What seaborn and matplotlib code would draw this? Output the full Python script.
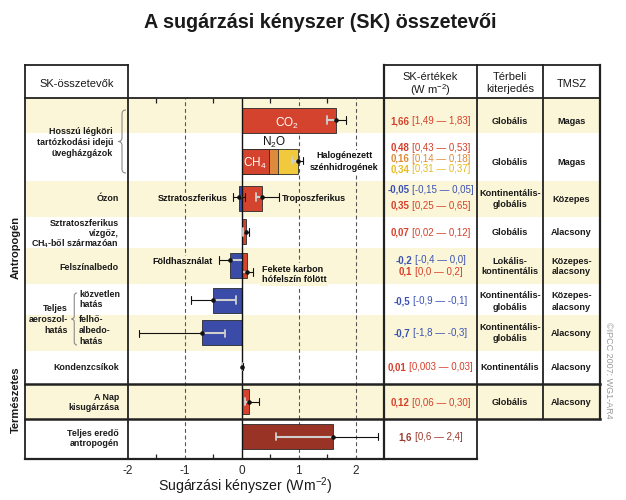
import numpy as np
import pandas as pd
import matplotlib
matplotlib.use('Agg')
import matplotlib.pyplot as plt
from matplotlib.path import Path
from matplotlib.patches import PathPatch
from matplotlib.ticker import FixedLocator
import seaborn as sns

sns.set_style('white')
plt.rcParams['font.family'] = ['Liberation Sans', 'DejaVu Sans']
plt.rcParams['mathtext.fontset'] = 'custom'
plt.rcParams['mathtext.rm'] = 'Liberation Sans'
plt.rcParams['mathtext.it'] = 'Liberation Sans:italic'
plt.rcParams['mathtext.bf'] = 'Liberation Sans:bold'

# ---- adatok (W m-2) ----
komponens = ['CO2', 'CH4', 'N2O', 'Halogénezett szénhidrogének',
             'Sztratoszferikus ózon', 'Troposzferikus ózon', 'Sztratoszferikus vízgőz',
             'Földhasználat', 'Fekete karbon hófelszín fölött', 'Közvetlen hatás',
             'Felhő-albedo-hatás', 'Kondenzcsíkok', 'A Nap kisugárzása',
             'Teljes eredő antropogén']
ertek = [1.66, 0.48, 0.16, 0.34, -0.05, 0.35, 0.07, -0.2, 0.1, -0.5, -0.7, 0.01, 0.12, 1.6]
also = [1.49, 0.43, 0.14, 0.31, -0.15, 0.25, 0.02, -0.4, 0.0, -0.9, -1.8, 0.003, 0.06, 0.6]
felso = [1.83, 0.53, 0.18, 0.37, 0.05, 0.65, 0.12, 0.0, 0.2, -0.1, -0.3, 0.03, 0.30, 2.4]
sor = [0, 1, 1, 1, 2, 2, 3, 4, 4, 5, 6, 7, 8, 9]
# CH4 + N2O + halogénezett együttes bizonytalansága
ghg_also, ghg_felso = 0.89, 1.07

sk_ertek = [['1,66'], ['0,48', '0,16', '0,34'], ['-0,05', '0,35'], ['0,07'],
            ['-0,2', '0,1'], ['-0,5'], ['-0,7'], ['0,01'], ['0,12'], ['1,6']]
sk_tartomany = [['[1,49 — 1,83]'], ['[0,43 — 0,53]', '[0,14 — 0,18]', '[0,31 — 0,37]'],
                ['[-0,15 — 0,05]', '[0,25 — 0,65]'], ['[0,02 — 0,12]'],
                ['[-0,4 — 0,0]', '[0,0 — 0,2]'], ['[-0,9 — -0,1]'], ['[-1,8 — -0,3]'],
                ['[0,003 — 0,03]'], ['[0,06 — 0,30]'], ['[0,6 — 2,4]']]
terbeli = ['Globális', 'Globális', 'Kontinentális-\nglobális', 'Globális',
           'Lokális-\nkontinentális', 'Kontinentális-\nglobális', 'Kontinentális-\nglobális',
           'Kontinentális', 'Globális']
tmsz = ['Magas', 'Magas', 'Közepes', 'Alacsony', 'Közepes-\nalacsony', 'Közepes-\nalacsony',
        'Alacsony', 'Alacsony', 'Alacsony']

# ---- színek, elrendezés (pixelben) ----
PIROS, NARANCS, SARGA, KEK, BORDO = '#D4432D', '#DE8A3D', '#F1C93D', '#3A4BA8', '#983325'
SZOVEG_PIROS, SZOVEG_NARANCS, SZOVEG_SARGA = '#D63F2A', '#E08A35', '#E6BB22'
SZOVEG_KEK, SZOVEG_BORDO = '#3A52B4', '#9A3A2E'
HATTER = '#FBF6D7'
bar_szin = [PIROS, PIROS, NARANCS, SARGA, KEK, PIROS, PIROS, KEK, PIROS, KEK, KEK, PIROS, PIROS, BORDO]
sk_szin = [[SZOVEG_PIROS], [SZOVEG_PIROS, SZOVEG_NARANCS, SZOVEG_SARGA], [SZOVEG_KEK, SZOVEG_PIROS],
           [SZOVEG_PIROS], [SZOVEG_KEK, SZOVEG_PIROS], [SZOVEG_KEK], [SZOVEG_KEK], [SZOVEG_PIROS],
           [SZOVEG_PIROS], [SZOVEG_BORDO]]

sor_hatar = [98, 133, 181, 217, 248, 284, 315, 351, 384, 419, 459]
sor_kozep = [120.5, 161.5, 198, 231.8, 265.5, 300.5, 332, 366.5, 401.5, 436.5]
sk_sorkoz = [0, 10.8, 16, 0, 11.4, 0, 0, 0, 0, 0]
sk_eltolas = [0, -4, -1, 0, -0.5, 0, 0, 0, 0, 0]
hiba_eltolas = [-0.5, -1, 0, 0, -1.3, -1.3, 0, -5.5, 6.2, -0.5, 1.3, 0, 0, 0]
BAR_H = 25

W, H = 626, 500
fig = plt.figure(figsize=(W / 100, H / 100), dpi=100)


def px(x0, y0, x1, y1):
    return [x0 / W, 1 - y1 / H, (x1 - x0) / W, (y1 - y0) / H]


bg = fig.add_axes([0, 0, 1, 1], zorder=0)
bg.set_xlim(0, W)
bg.set_ylim(H, 0)
bg.axis('off')

ax = fig.add_axes(px(128, 98, 384, 459), zorder=1)
ax.patch.set_alpha(0)

ov = fig.add_axes([0, 0, 1, 1], zorder=2)
ov.set_xlim(0, W)
ov.set_ylim(H, 0)
ov.axis('off')
ov.patch.set_alpha(0)

# sávos háttér
for i in range(10):
    if i % 2 == 0:
        bg.fill_between([25, 600], sor_hatar[i], sor_hatar[i + 1], color=HATTER, lw=0)

# szaggatott függőleges vonalak és nullvonal
for xv in [-1, 1, 2]:
    ax.axvline(xv, color='#555555', lw=0.8, ls=(0, (3.5, 2.5)), zorder=0.5)
ax.axvline(0, color='#111111', lw=1.0, zorder=3)

# oszlopok (a CH4 + N2O + halogénezett halmozva: a kumulált összeget hátulról rajzoljuk)
df = pd.DataFrame({'nev': komponens, 'ertek': ertek, 'sor': sor, 'szin': bar_szin})
df['rajz'] = df['ertek']
ghg = df['sor'] == 1
df.loc[ghg, 'rajz'] = df.loc[ghg, 'ertek'].cumsum()
df['y'] = [sor_kozep[s] for s in df['sor']]
rajz_sorrend = list(df.index[~ghg]) + list(df.index[ghg][::-1])
for idx in rajz_sorrend:
    r = df.loc[idx]
    sns.barplot(x=[r['rajz']], y=[r['y']], orient='h', native_scale=True, width=BAR_H,
                color=r['szin'], saturation=1, edgecolor='#2a2a2a', linewidth=0.6,
                errorbar=None, ax=ax, zorder=2)


def hibasav(v, lo, hi, y):
    a, b = min(0, v), max(0, v)
    pts = sorted(set([lo, hi] + [p for p in (a, b) if lo < p < hi]))
    for s, e in zip(pts[:-1], pts[1:]):
        bent = a <= (s + e) / 2 <= b
        ax.plot([s, e], [y, y], color='#cfcfcf' if bent else '#111111',
                lw=1.5 if bent else 0.8, solid_capstyle='butt', zorder=4)
    for p in (lo, hi):
        bent = a < p < b or (p == a and p != 0) or (p == b and p != 0)
        ax.plot([p, p], [y - 3.8, y + 3.8], color='#cfcfcf' if bent else '#111111',
                lw=1.3 if bent else 0.8, zorder=4)
    ax.plot([v], [y], 'o', ms=2.3, color='#111111', zorder=5)


for i in range(len(ertek)):
    if sor[i] == 1:
        continue
    hibasav(ertek[i], also[i], felso[i], sor_kozep[sor[i]] + hiba_eltolas[i])
hibasav(sum(ertek[1:4]), ghg_also, ghg_felso, sor_kozep[1] - 1)


def tobbsor(a, x, yc, s, koz=10.5, **kw):
    sorok = s.split('\n')
    n = len(sorok)
    out = []
    for k, t in enumerate(sorok):
        out.append(a.text(x, yc + (k - (n - 1) / 2) * koz, t, va='center_baseline', **kw))
    return out


def dobozos(bgc):
    return dict(boxstyle='square,pad=0.15', fc=bgc, ec='none')


# feliratok az ábrán belül
belso = dict(fontsize=6.5, weight='bold', color='#111111', zorder=6)
ax.text(0.79, 121, 'CO$_2$', color='white', fontsize=8.5, ha='center', va='center_baseline', zorder=6)
ax.text(0.57, 140.5, 'N$_2$O', color='#111111', fontsize=8.5, ha='center', va='center_baseline', zorder=6)
ax.text(0.23, 161.5, 'CH$_4$', color='white', fontsize=8.5, ha='center', va='center_baseline', zorder=6)
tobbsor(ax, 1.8, 160.5, 'Halogénezett\nszénhidrogének', koz=11, ha='center',
        bbox=dobozos('white'), **belso)
ax.text(-0.24, 197.5, 'Sztratoszferikus', ha='right', va='center_baseline',
        bbox=dobozos(HATTER), **belso)
ax.text(0.71, 197.5, 'Troposzferikus', ha='left', va='center_baseline',
        bbox=dobozos(HATTER), **belso)
ax.text(-0.52, 260.5, 'Földhasználat', ha='right', va='center_baseline',
        bbox=dobozos(HATTER), **belso)
tobbsor(ax, 0.35, 273.5, 'Fekete karbon\nhófelszín fölött', koz=10.5, ha='left',
        bbox=dobozos(HATTER), **belso)

# tengely
ax.set_xlim(-2, 2.5)
ax.set_ylim(459, 98)
ax.set_yticks([])
ax.set_ylabel('')
ax.set_xlabel('')
ax.set_xticks([-2, -1, 0, 1, 2])
ax.set_xticklabels(['-2', '-1', '0', '1', '2'], fontsize=8.5)
ax.xaxis.set_minor_locator(FixedLocator([-1.5, -0.5, 0.5, 1.5]))
ax.tick_params(axis='x', which='major', length=0, pad=4)
ax.tick_params(axis='x', which='minor', direction='in', length=3.5, width=0.9,
               top=True, bottom=True, color='#222222')
for sp in ax.spines.values():
    sp.set_visible(False)

# keret és táblázat vonalai
VON = '#222222'
vonalak = [
    ([25, 25], [65, 459], 1.3), ([128, 128], [65, 459], 1.3),
    ([25, 128], [65, 65], 1.3), ([384, 600], [65, 65], 1.3),
    ([25, 600], [98, 98], 1.3), ([384, 384], [65, 459], 1.6),
    ([477, 477], [65, 459], 1.3), ([543, 543], [65, 419], 1.3),
    ([600, 600], [65, 419], 1.6), ([25, 600], [384, 384], 1.8),
    ([25, 600], [419, 419], 1.8), ([25, 477], [459, 459], 1.6),
]
for xs, ys, lw in vonalak:
    ov.plot(xs, ys, color=VON, lw=lw, solid_capstyle='projecting', zorder=3)


def kapcsos(x_hegy, x_veg, y0, y1, r=4):
    xm = (x_hegy + x_veg) / 2
    ym = (y0 + y1) / 2
    verts = [(x_veg, y0), (xm, y0), (xm, y0 + r), (xm, ym - r), (xm, ym), (x_hegy, ym),
             (xm, ym), (xm, ym + r), (xm, y1 - r), (xm, y1), (x_veg, y1)]
    codes = [Path.MOVETO, Path.CURVE3, Path.CURVE3, Path.LINETO, Path.CURVE3, Path.CURVE3,
             Path.CURVE3, Path.CURVE3, Path.LINETO, Path.CURVE3, Path.CURVE3]
    ov.add_patch(PathPatch(Path(verts, codes), fc='none', ec='#8a8a8a', lw=0.8))


kapcsos(118, 126, 110, 173)
kapcsos(71.5, 77, 293, 345, r=3)

# bal oldali feliratok
bal = dict(fontsize=6.4, weight='bold', color='#1a1a1a')
tobbsor(ov, 113, 141.5, 'Hosszú légköri\ntartózkodási idejű\nüvegházgázok', ha='right', **bal)
tobbsor(ov, 119, 197.5, 'Ózon', ha='right', **bal)
tobbsor(ov, 119, 232, 'Sztratoszferikus\nvízgőz,\nCH$_\\mathbf{4}$-ből származóan', koz=10, ha='right', **bal)
tobbsor(ov, 119, 266, 'Felszínalbedo', ha='right', **bal)
tobbsor(ov, 68, 318.5, 'Teljes\naeroszol-\nhatás', koz=10.8, ha='right', **bal)
tobbsor(ov, 79, 298.5, 'közvetlen\nhatás', koz=10, ha='left', **bal)
tobbsor(ov, 79, 329.5, 'felhő-\nalbedo-\nhatás', koz=10.8, ha='left', **bal)
tobbsor(ov, 119, 367, 'Kondenzcsíkok', ha='right', **bal)
tobbsor(ov, 119, 401.5, 'A Nap\nkisugárzása', koz=10, ha='right', **bal)
tobbsor(ov, 119, 437, 'Teljes eredő\nantropogén', koz=10, ha='right', **bal)
ov.text(16, 247, 'Antropogén', rotation=90, ha='center', va='center', fontsize=8, weight='bold', color='#1a1a1a')
ov.text(16, 400, 'Természetes', rotation=90, ha='center', va='center', fontsize=8, weight='bold', color='#1a1a1a')

# fejlécek
fej = dict(fontsize=8, color='#1a1a1a', ha='center')
tobbsor(ov, 76.5, 83, 'SK-összetevők', **fej)
tobbsor(ov, 430.5, 82, 'SK-értékek\n(W m$^{-2}$)', koz=12.5, **fej)
tobbsor(ov, 510, 82, 'Térbeli\nkiterjedés', koz=12.5, **fej)
tobbsor(ov, 571.5, 83, 'TMSZ', **fej)

# táblázat értékei: félkövér érték + normál tartomány, együtt középre igazítva
parok = []
for i in range(10):
    n = len(sk_ertek[i])
    for k in range(n):
        y = sor_kozep[i] + sk_eltolas[i] + (k - (n - 1) / 2) * sk_sorkoz[i]
        t1 = ov.text(0, y, sk_ertek[i][k], fontsize=7, weight='bold', color=sk_szin[i][k],
                     ha='left', va='center_baseline')
        t2 = ov.text(0, y, sk_tartomany[i][k], fontsize=7, color=sk_szin[i][k],
                     ha='left', va='center_baseline')
        parok.append((t1, t2))
renderer = fig.canvas.get_renderer()
for t1, t2 in parok:
    w1 = t1.get_window_extent(renderer).width
    w2 = t2.get_window_extent(renderer).width
    gap = 2.5
    x0 = 430.5 - (w1 + w2 + gap) / 2
    t1.set_x(x0)
    t2.set_x(x0 + w1 + gap)

tab = dict(fontsize=6.6, weight='bold', color='#1a1a1a', ha='center')
for i in range(9):
    tobbsor(ov, 510, sor_kozep[i], terbeli[i], koz=11, **tab)
    tobbsor(ov, 571.5, sor_kozep[i], tmsz[i], koz=11, **tab)

# cím, tengelyfelirat, forrás
fig.text(320 / W, 1 - 23 / H, 'A sugárzási kényszer (SK) összetevői', ha='center', va='center',
         fontsize=14.2, weight='bold', color='#1a1a1a')
fig.text(245 / W, 1 - 486 / H, 'Sugárzási kényszer (Wm$^{-2}$)', ha='center', va='center',
         fontsize=10.2, color='#1a1a1a')
fig.text(609 / W, 1 - 370 / H, '©IPCC 2007: WG1-AR4', rotation=-90, ha='center', va='center',
         fontsize=6.5, color='#9a9a9a')

fig.savefig('out.png', dpi=100)
